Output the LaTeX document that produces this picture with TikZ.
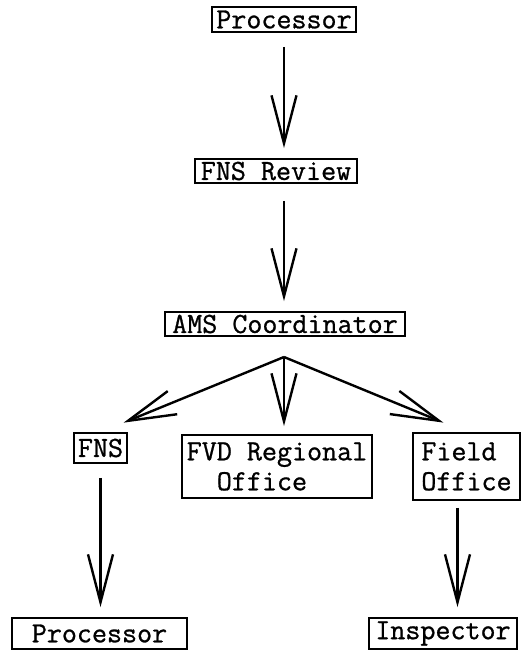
\documentclass[tikz,border=0pt]{standalone}
\usepackage{fontspec}
\newfontfamily\typer[FakeBold=0.9]{Latin Modern Mono}
\usetikzlibrary{arrows.meta}
\begin{document}
\begin{tikzpicture}[x=0.5pt, y=-0.5pt,
        box/.style={draw, line width=0.9pt, inner sep=1pt, font=\typer\fontsize{14.6}{15}\selectfont},
        flow/.style={-{Straight Barb[length=24pt,width=12.5pt]}, line width=1.2pt, shorten <=7pt, shorten >=5pt}]
        \useasboundingbox (0,0) rectangle (522,650);
        \node[box, minimum width=72pt, minimum height=12.5pt] (proc1) at (284,19.5) {Processor};
        \node[box, minimum width=81pt, minimum height=12pt] (fnsrev) at (276,171) {FNS Review};
        \node[box, minimum width=120pt, minimum height=12pt] (ams) at (285,324) {AMS Coordinator};
        \node[box, minimum width=26.5pt, minimum height=15pt] (fns) at (100.5,448) {FNS};
        \node[box, minimum width=95pt, minimum height=31.5pt, align=left] (fvd) at (277,466.5) {FVD Regional\\\phantom{FV}Office};
        \node[box, minimum width=53.5pt, minimum height=33.5pt, align=left] (field) at (466.5,466.5) {Field\\Office};
        \node[box, minimum width=87.5pt, minimum height=15.5pt] (proc2) at (99.5,633.5) {Processor};
        \node[box, minimum width=74pt, minimum height=15.5pt] (insp) at (443,633.5) {Inspector};
        \coordinate (split) at (284,357);
        \draw[flow] (proc1.south) -- (proc1.south |- fnsrev.north);
        \draw[flow, shorten <=8.5pt] (proc1.south |- fnsrev.south) -- (proc1.south |- ams.north);
        \draw[flow, shorten <=0pt, shorten >=12.5pt] (split) -- (fns.north);
        \draw[flow, shorten <=0pt, shorten >=4pt] (split) -- (split |- fvd.north);
        \draw[flow, shorten <=0pt, shorten >=12.5pt] (split) -- (field.north);
        \draw[flow] (fns.south) -- (fns.south |- proc2.north);
        \draw[flow, shorten <=3.5pt] ([xshift=-4.5pt]field.south) -- ([xshift=-4.5pt]field.south |- insp.north);
\end{tikzpicture}
\end{document}
